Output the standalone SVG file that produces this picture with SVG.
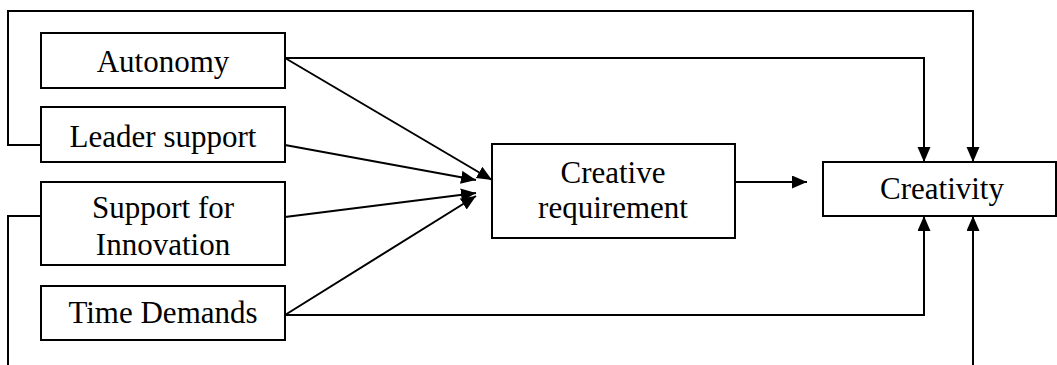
<svg xmlns="http://www.w3.org/2000/svg" width="1057" height="365" viewBox="0 0 1057 365">
<style>
.box{fill:#fff;stroke:#000;stroke-width:2}
.t{font-family:"Liberation Serif","Times New Roman",serif;font-size:31px;fill:#000;text-anchor:middle}
.c{fill:none;stroke:#000;stroke-width:2}
</style>
<defs>
<marker id="ah" markerUnits="userSpaceOnUse" markerWidth="16" markerHeight="14" refX="15" refY="6.5" orient="auto">
<path d="M0,0 L15,6.5 L0,13 z" fill="#000"/>
</marker>
</defs>
<rect width="1057" height="365" fill="#fff"/>
<g id="connectors">
<path class="c" d="M41,145 H8 V11 H973 V162" marker-end="url(#ah)"/>
<path class="c" d="M285,58 H924 V162" marker-end="url(#ah)"/>
<path class="c" d="M285,315 H924 V216" marker-end="url(#ah)"/>
<path class="c" d="M41,216 H8 V372 H973 V216" marker-end="url(#ah)"/>
<path class="c" d="M285,58 L492,180" marker-end="url(#ah)"/>
<path class="c" d="M285,145 L476,180" marker-end="url(#ah)"/>
<path class="c" d="M285,217 L476,193" marker-end="url(#ah)"/>
<path class="c" d="M285,315 L476,196" marker-end="url(#ah)"/>
<path class="c" d="M735,182 L807,182" marker-end="url(#ah)"/>
</g>
<g id="autonomy">
<rect class="box" x="41" y="33" width="244" height="55"/>
<text class="t" x="163" y="72">Autonomy</text>
</g>
<g id="leader-support">
<rect class="box" x="41" y="107" width="244" height="55"/>
<text class="t" x="163" y="147">Leader support</text>
</g>
<g id="support-innovation">
<rect class="box" x="41" y="182" width="244" height="83"/>
<text class="t" x="163" y="218">Support for</text>
<text class="t" x="163" y="255">Innovation</text>
</g>
<g id="time-demands">
<rect class="box" x="41" y="286" width="244" height="54"/>
<text class="t" x="163" y="323">Time Demands</text>
</g>
<g id="creative-requirement">
<rect class="box" x="492" y="144" width="243" height="94"/>
<text class="t" x="613" y="183">Creative</text>
<text class="t" x="613" y="218">requirement</text>
</g>
<g id="creativity">
<rect class="box" x="823" y="162" width="233" height="54"/>
<text class="t" x="942" y="199">Creativity</text>
</g>
</svg>
